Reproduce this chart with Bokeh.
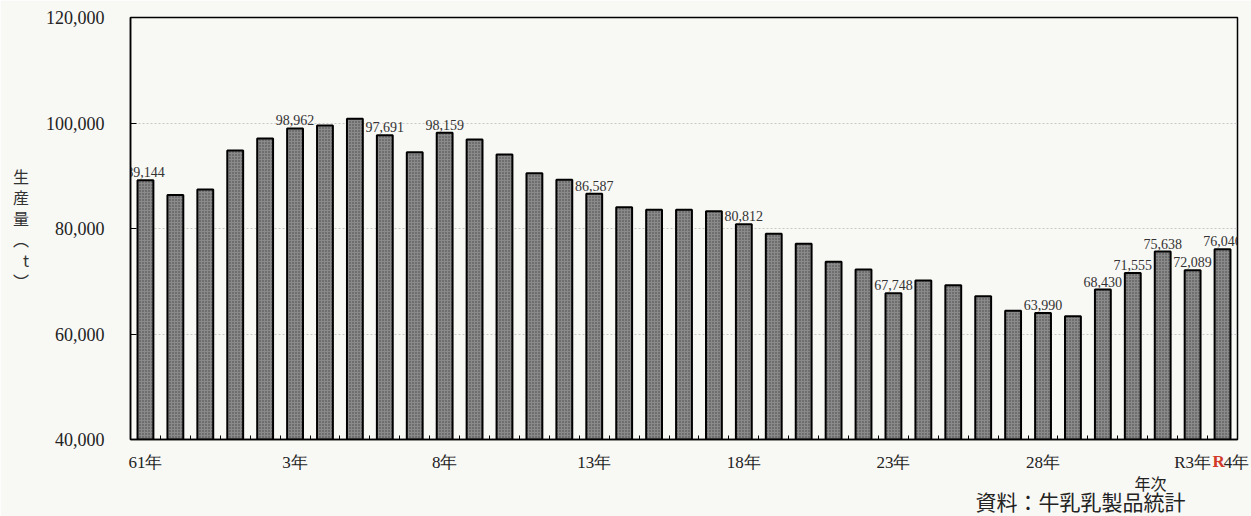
from bokeh.plotting import figure
from bokeh.models import (Range1d, FixedTicker, NumeralTickFormatter, ColumnDataSource,
                          LinearAxis, Title)
from bokeh.core.properties import value
from bokeh.embed import file_html
from bokeh.resources import INLINE

# Years: Showa 61 (1986) .. Reiwa 4 (2022)
years = ["61年", "62年", "63年", "元年", "2年", "3年", "4年", "5年", "6年", "7年",
         "8年", "9年", "10年", "11年", "12年", "13年", "14年", "15年", "16年", "17年",
         "18年", "19年", "20年", "21年", "22年", "23年", "24年", "25年", "26年", "27年",
         "28年", "29年", "30年", "R元年", "R2年", "R3年", "R4年"]
production = [89144, 86370, 87380, 94780, 97060, 98962, 99530, 100800, 97691, 94460,
              98159, 96870, 94020, 90480, 89220, 86587, 84040, 83550, 83550, 83290,
              80812, 79000, 77100, 73690, 72230, 67748, 70150, 69260, 67170, 64400,
              63990, 63380, 68430, 71555, 75638, 72089, 76046]
labeled_idx = [0, 5, 8, 10, 15, 20, 25, 30, 32, 33, 34, 35, 36]
tick_idx = [0, 5, 10, 15, 20, 25, 30, 35]
tick_text = ["61年", "3年", "8年", "13年", "18年", "23年", "28年", "R3年"]
y_ticks = [40000, 60000, 80000, 100000, 120000]
y_title = ["生", "産", "量", "︵", "t", "︶"]
x_title = "年次"
source_note = "資料：牛乳乳製品統計"

SERIF = "Liberation Serif"
CJK = "Noto Sans CJK JP"
BG = "#f8f8f5"

n = len(years)
idx = list(range(n))
last = n - 1
r_pos = last - 0.13      # red "R" of the last label
tail_pos = last + 0.47   # "4年" of the last label

p = figure(width=1251, height=516, output_backend="svg", toolbar_location=None,
           x_range=Range1d(-0.5, n - 0.5), y_range=Range1d(40000, 120000),
           min_border_left=130, min_border_right=14, min_border_top=17, min_border_bottom=77,
           background_fill_color=BG, border_fill_color=BG)
p.outline_line_color = "black"
p.outline_line_width = 1.5

src = ColumnDataSource(dict(x=idx, top=production))
p.vbar(x="x", top="top", bottom=40000, width=0.53, source=src,
       fill_color="#8a8a8a", line_color="black", line_width=2,
       hatch_pattern="dot", hatch_scale=3, hatch_color="#3c3c3c", hatch_alpha=0.9)

lab_src = ColumnDataSource(dict(x=labeled_idx,
                                y=[production[i] for i in labeled_idx],
                                t=[f"{production[i]:,}" for i in labeled_idx]))
p.text(x="x", y="y", text="t", source=lab_src, text_align="center", text_baseline="bottom",
       y_offset=-3, text_font=value(SERIF), text_font_size="14px", text_color="#333333")

# x axis
xa = p.xaxis[0]
xa.ticker = FixedTicker(ticks=tick_idx + [tail_pos], minor_ticks=[i + 0.5 for i in range(n - 1)])
ov = {i: t for i, t in zip(tick_idx, tick_text)}
ov[tail_pos] = years[last][1:]
xa.major_label_overrides = ov
xa.major_tick_in = 0
xa.major_tick_out = 0
xa.minor_tick_in = 4
xa.minor_tick_out = 0
xa.minor_tick_line_color = "black"
xa.axis_line_color = "black"
xa.axis_line_width = 1.5
xa.major_label_text_font = SERIF
xa.major_label_text_font_size = "17px"
xa.major_label_text_color = "#222222"
xa.major_label_standoff = 13

# red "R" of the last label, on a second (invisible) axis pulled up onto the label row
ra = LinearAxis(ticker=FixedTicker(ticks=[r_pos], minor_ticks=[]),
                major_label_overrides={r_pos: years[last][0]},
                axis_line_color=None, major_tick_line_color=None, minor_tick_line_color=None,
                major_tick_in=0, major_tick_out=0, minor_tick_in=0, minor_tick_out=0,
                major_label_text_font=SERIF, major_label_text_font_size="17px",
                major_label_text_color="#d23a2a", major_label_text_font_style="bold",
                major_label_standoff=-23)
p.add_layout(ra, "below")

# y axis
ya = p.yaxis[0]
ya.ticker = FixedTicker(ticks=y_ticks, minor_ticks=[])
ya.formatter = NumeralTickFormatter(format="0,0")
ya.major_tick_in = 6
ya.major_tick_out = 0
ya.minor_tick_line_color = None
ya.axis_line_color = "black"
ya.axis_line_width = 1.5
ya.major_label_text_font = SERIF
ya.major_label_text_font_size = "18px"
ya.major_label_text_color = "#222222"
ya.major_label_standoff = 26
ya.axis_label_orientation = "horizontal"
ya.axis_label = "\n".join(y_title)
ya.axis_label_text_font = CJK
ya.axis_label_text_font_size = "16px"
ya.axis_label_text_font_style = "normal"
ya.axis_label_text_color = "#333333"
ya.axis_label_text_line_height = 0.88
ya.axis_label_standoff = 14

p.xgrid.grid_line_color = None
p.ygrid.ticker = FixedTicker(ticks=y_ticks)
p.ygrid.grid_line_color = "#c8c8c8"
p.ygrid.grid_line_dash = "2 2"

p.add_layout(Title(text=x_title, align="left", offset=1004, standoff=-12,
                   text_font=CJK, text_font_size="16px", text_font_style="normal",
                   text_color="#222222"), "below")
p.add_layout(Title(text=source_note, align="left", offset=845, standoff=-9,
                   text_font=CJK, text_font_size="21px", text_font_style="normal",
                   text_color="#222222"), "below")

open("out.html", "w").write(file_html(p, INLINE))
